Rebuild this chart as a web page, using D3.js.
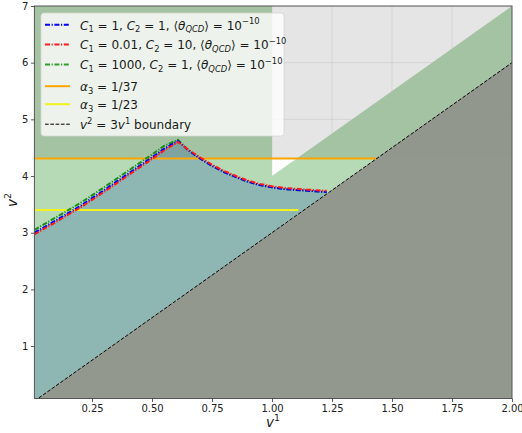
<!DOCTYPE html>
<html>
<head>
<meta charset="utf-8">
<script src="https://cdn.jsdelivr.net/npm/d3@7/dist/d3.min.js"></script>
<style>
  html, body { margin: 0; padding: 0; background: #fff; }
  svg { display: block; }
  text { white-space: pre; }
</style>
</head>
<body>
<svg id="chart" width="522" height="433"></svg>
<script>
// v1 sample points of the vacuum curves
const v1Points = [0.01, 0.1, 0.2, 0.3, 0.4, 0.5, 0.55, 0.608, 0.65, 0.7, 0.75, 0.8, 0.85, 0.9, 0.95, 1.0, 1.05, 1.1, 1.15, 1.2, 1.228];
// v2 values for each (C1, C2) choice
const v2Blue  = [3.00, 3.22, 3.47, 3.75, 4.04, 4.33, 4.48, 4.62, 4.46, 4.31, 4.18, 4.07, 3.98, 3.90, 3.84, 3.80, 3.77, 3.755, 3.74, 3.725, 3.72];
const v2Red   = [2.97, 3.19, 3.44, 3.72, 4.01, 4.30, 4.45, 4.60, 4.47, 4.33, 4.20, 4.09, 4.00, 3.92, 3.86, 3.82, 3.79, 3.775, 3.76, 3.745, 3.74];
const v2Green = [3.05, 3.27, 3.52, 3.80, 4.09, 4.38, 4.53, 4.64, 4.46, 4.31, 4.18, 4.07, 3.98, 3.90, 3.84, 3.80, 3.77, 3.755, 3.74, 3.725, 3.72];

// coupling levels (horizontal lines) and their v1 extent
const alpha37Level = 4.31;
const alpha23Level = 3.40;
const alpha23End = 1.11;

// allowed band above the boundary v2 = 3 v1
const boundarySlope = 3;
const bandStartV1 = 1.0;
const bandWidth = 1.0;

// axis ranges and ticks
const xDomain = [0.01, 2.0];
const yDomain = [0.075, 7.0];
const xTicks = [0.25, 0.5, 0.75, 1.0, 1.25, 1.5, 1.75, 2.0];
const yTicks = [1, 2, 3, 4, 5, 6, 7];

const svg = d3.select('#chart');
const W = 522, H = 433;
const L = 34.4, R = 512, T = 6, B = 398.5;

const x = d3.scaleLinear().domain(xDomain).range([L, R]);
const y = d3.scaleLinear().domain(yDomain).range([B, T]);

svg.append('rect').attr('width', W).attr('height', H).attr('fill', '#fff');

svg.append('defs').append('clipPath').attr('id', 'plotClip')
  .append('rect').attr('x', L).attr('y', T).attr('width', R - L).attr('height', B - T);

const plot = svg.append('g').attr('clip-path', 'url(#plotClip)');
const poly = d3.line().x(d => x(d[0])).y(d => y(d[1]));

const x0 = xDomain[0], x1 = xDomain[1], yTop = yDomain[1], yBot = yDomain[0];

// faint grid underneath the shaded regions
const grid = plot.append('g').attr('stroke', '#b0b0b0').attr('stroke-opacity', 0.3).attr('stroke-width', 0.8);
xTicks.forEach(t => grid.append('line').attr('x1', x(t)).attr('x2', x(t)).attr('y1', T).attr('y2', B));
yTicks.forEach(t => grid.append('line').attr('y1', y(t)).attr('y2', y(t)).attr('x1', L).attr('x2', R));

// green allowed region
const greenRegion = [
  [x0, boundarySlope * x0], [x0, yTop], [bandStartV1, yTop],
  [bandStartV1, boundarySlope * bandStartV1 + bandWidth],
  [x1, boundarySlope * x1 + bandWidth], [x1, boundarySlope * x1]
];
plot.append('path').attr('d', poly(greenRegion) + 'Z').attr('fill', '#b1d8b0').attr('fill-opacity', 0.94);

// region under the vacuum curve
const lastV1 = v1Points[v1Points.length - 1];
const tealRegion = v1Points.map((v, i) => [v, v2Blue[i]])
  .concat([[lastV1, boundarySlope * lastV1], [x0, boundarySlope * x0]]);
plot.append('path').attr('d', poly(tealRegion) + 'Z').attr('fill', '#8bb5b3').attr('fill-opacity', 0.94);

// shaded band above alpha_3 = 1/37
plot.append('rect')
  .attr('x', L).attr('width', R - L)
  .attr('y', y(yTop)).attr('height', y(alpha37Level) - y(yTop))
  .attr('fill', '#000').attr('fill-opacity', 0.1);

// excluded region below the boundary
const excluded = [[x0, boundarySlope * x0], [x1, boundarySlope * x1], [x1, yBot - 1], [x0, yBot - 1]];
plot.append('path').attr('d', poly(excluded) + 'Z').attr('fill', '#8f948a').attr('fill-opacity', 0.96);

// coupling lines
plot.append('line')
  .attr('x1', x(x0)).attr('x2', x(alpha37Level / boundarySlope))
  .attr('y1', y(alpha37Level)).attr('y2', y(alpha37Level))
  .attr('stroke', '#ffa500').attr('stroke-width', 2);
plot.append('line')
  .attr('x1', x(x0)).attr('x2', x(alpha23End))
  .attr('y1', y(alpha23Level)).attr('y2', y(alpha23Level))
  .attr('stroke', '#f2f21e').attr('stroke-width', 2);

// vacuum curves
const dashDot = '5,1.6,1.2,1.6';
const curve = d3.line().x(d => x(d[0])).y(d => y(d[1]));
const series = [
  { vals: v2Green, color: '#1a8f1a' },
  { vals: v2Blue, color: '#0000ff' },
  { vals: v2Red, color: '#ff1a1a' }
];
series.forEach(s => {
  plot.append('path')
    .attr('d', curve(v1Points.map((v, i) => [v, s.vals[i]])))
    .attr('fill', 'none').attr('stroke', s.color)
    .attr('stroke-width', 2).attr('stroke-dasharray', dashDot);
});

// boundary line
plot.append('line')
  .attr('x1', x(x0)).attr('y1', y(boundarySlope * x0))
  .attr('x2', x(x1)).attr('y2', y(boundarySlope * x1))
  .attr('stroke', '#000').attr('stroke-width', 1).attr('stroke-dasharray', '3.7,1.6');

// frame
svg.append('rect').attr('x', L).attr('y', T).attr('width', R - L).attr('height', B - T)
  .attr('fill', 'none').attr('stroke', '#555').attr('stroke-width', 1);

// axes
const xAxis = d3.axisBottom(x).tickValues(xTicks).tickFormat(d3.format('.2f')).tickSize(3.5).tickPadding(2.5);
const yAxis = d3.axisLeft(y).tickValues(yTicks).tickFormat(d3.format('d')).tickSize(3.5).tickPadding(2.5);
const gx = svg.append('g').attr('transform', `translate(0,${B})`).call(xAxis);
const gy = svg.append('g').attr('transform', `translate(${L},0)`).call(yAxis);
[gx, gy].forEach(g => {
  g.select('.domain').remove();
  g.selectAll('.tick line').attr('stroke', '#333').attr('stroke-width', 0.8);
  g.selectAll('.tick text').attr('font-family', 'DejaVu Sans').attr('font-size', 10).attr('fill', '#222');
});

// mathtext-style label helper
function mathText(g, px, py, parts, fs, opts = {}) {
  const t = g.append('text').attr('x', px).attr('y', py)
    .attr('font-family', 'DejaVu Sans').attr('font-size', fs).attr('fill', '#1a1a1a');
  if (opts.anchor) t.attr('text-anchor', opts.anchor);
  if (opts.transform) t.attr('transform', opts.transform);
  let cur = 0;
  parts.forEach(p => {
    const s = p[0], o = p[1] || {};
    let target = 0, size = fs;
    if (o.sub) { target = 0.22 * fs; size = 0.7 * fs; }
    if (o.sup) { target = -0.42 * fs; size = 0.7 * fs; }
    t.append('tspan').attr('dy', target - cur).attr('font-size', size)
      .attr('font-style', o.i ? 'italic' : 'normal').text(s);
    cur = target;
  });
  return t;
}

mathText(svg, 273, 427, [['v', { i: 1 }], ['1', { sup: 1 }]], 13.5, { anchor: 'middle' });
mathText(svg, 0, 0, [['v', { i: 1 }], ['2', { sup: 1 }]], 13.5,
  { anchor: 'middle', transform: 'translate(17,200) rotate(-90)' });

// legend
const leg = svg.append('g');
leg.append('rect').attr('x', 41).attr('y', 13).attr('width', 243).attr('height', 123).attr('rx', 3)
  .attr('fill', '#fff').attr('fill-opacity', 0.8).attr('stroke', '#d6d6d6').attr('stroke-width', 0.8);

const thetaPart = [[', ⟨'], ['θ', { i: 1 }], ['QCD', { sub: 1, i: 1 }], ['⟩ = 10'], ['−10', { sup: 1 }]];
const legendRows = [
  { color: '#0000ff', dash: dashDot, base: 29.5,
    parts: [['C', { i: 1 }], ['1', { sub: 1 }], [' = 1, '], ['C', { i: 1 }], ['2', { sub: 1 }], [' = 1']].concat(thetaPart) },
  { color: '#ff1a1a', dash: dashDot, base: 49.3,
    parts: [['C', { i: 1 }], ['1', { sub: 1 }], [' = 0.01, '], ['C', { i: 1 }], ['2', { sub: 1 }], [' = 10']].concat(thetaPart) },
  { color: '#2e9e2e', dash: dashDot, base: 69.3,
    parts: [['C', { i: 1 }], ['1', { sub: 1 }], [' = 1000, '], ['C', { i: 1 }], ['2', { sub: 1 }], [' = 1']].concat(thetaPart) },
  { color: '#ffa500', dash: null, base: 91,
    parts: [['α', { i: 1 }], ['3', { sub: 1 }], [' = 1/37']] },
  { color: '#f2f21e', dash: null, base: 109,
    parts: [['α', { i: 1 }], ['3', { sub: 1 }], [' = 1/23']] },
  { color: '#000', dash: '3.7,1.6', base: 129, width: 1,
    parts: [['v', { i: 1 }], ['2', { sup: 1 }], [' = 3'], ['v', { i: 1 }], ['1', { sup: 1 }], [' boundary']] }
];
legendRows.forEach(r => {
  const ly = r.base - 4.8;
  const ln = leg.append('line').attr('x1', 45).attr('x2', 70).attr('y1', ly).attr('y2', ly)
    .attr('stroke', r.color).attr('stroke-width', r.width || 2);
  if (r.dash) ln.attr('stroke-dasharray', r.dash);
  mathText(leg, 80, r.base, r.parts, 12);
});
</script>
</body>
</html>
